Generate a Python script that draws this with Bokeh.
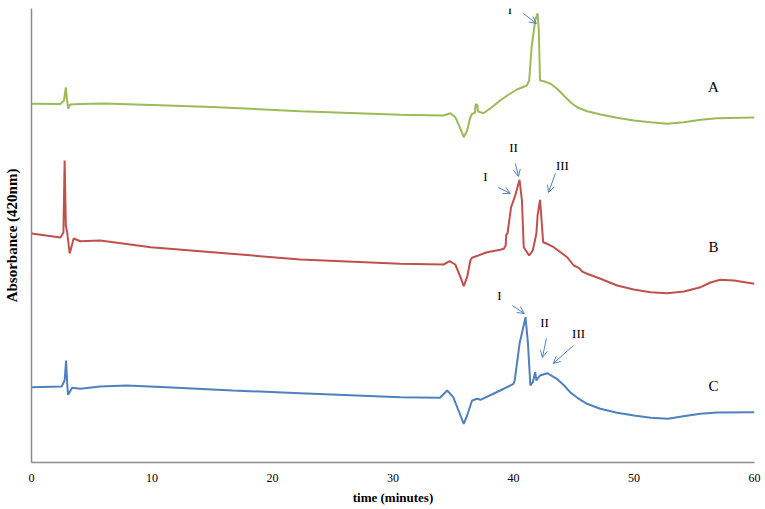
import math
from bokeh.plotting import figure
from bokeh.models import Range1d, FixedTicker, Label, Arrow, OpenHead
from bokeh.embed import file_html
from bokeh.resources import INLINE

# ---- data (signal in arbitrary absorbance units) ----
a_time = [0, 2.4, 2.7, 2.85, 2.95, 3.05, 3.2, 4.0, 6, 10, 15, 22.3, 30.6, 34.2, 34.76, 35.17, 35.6,
          35.87, 36.15, 36.42, 36.56, 36.8, 36.85, 37.0, 37.05, 37.5, 38.2, 38.9, 39.6, 40.3, 41.1,
          41.3, 41.5, 41.8, 42.0, 42.1, 42.2, 42.5, 43.07, 43.62, 44.17, 44.73, 45.28, 46.11, 47.22,
          48.6, 49.98, 51.37, 52.76, 54.14, 55.53, 56.91, 60]
a_signal = [358.7, 358.5, 362, 375, 362, 354, 358, 358.5, 359, 357.5, 355.5, 351.3, 347.7, 347, 349.3,
            345.3, 333.7, 325.3, 332, 345.3, 348.7, 349.5, 358, 358, 351, 349.3, 355.3, 362, 368,
            373, 377, 382, 415, 442, 449.3, 432, 382, 381.3, 378.7, 373.7, 367, 360.3, 355.3, 351.3,
            348, 344.7, 342, 340.3, 338.7, 340.3, 342.7, 344.3, 345]

b_time = [0, 2.4, 2.65, 2.75, 2.85, 2.96, 3.17, 3.5, 4.06, 5.7, 9.9, 14, 22.3, 30.6, 34.2, 34.7, 35.17,
          35.6, 35.87, 36.15, 36.42, 36.56, 37.8, 38.9, 39.2, 39.35, 39.4, 39.5, 39.8, 40.1, 40.5,
          40.7, 40.85, 41.3, 41.6, 41.9, 42.0, 42.2, 42.3, 42.46, 42.79, 43.34, 43.9, 44.45, 45.0,
          45.42, 45.7, 46.11, 47.22, 48.6, 49.98, 51.37, 52.76, 54.14, 55.53, 56.35, 57.16, 58.3, 60]
b_signal = [229, 225, 230, 302, 237, 230, 209, 224, 221.3, 222, 215.3, 211.3, 203, 198.7, 198, 201.3,
            198, 185.3, 176.3, 185.3, 202, 204.7, 210.3, 212.7, 213.7, 217, 227.7, 229, 255.3, 265.3,
            282.7, 262, 215.3, 207, 212, 229, 247, 262.7, 247, 220.3, 218.7, 215.3, 210.3, 205.3, 197,
            194.7, 191, 188.7, 183.7, 177, 173, 170.3, 169.3, 171, 175.3, 180, 182.7, 182, 178.7]

c_time = [0, 2.5, 2.75, 2.87, 2.97, 3.04, 3.37, 4.06, 5.7, 7.9, 11.2, 16.7, 22.3, 30.6, 33.9, 34.5,
          35.0, 35.6, 35.87, 36.15, 36.56, 36.98, 37.26, 38.9, 40.0, 40.1, 40.5, 41.0, 41.2, 41.4,
          41.6, 41.8, 41.9, 42.2, 42.8, 43.6, 44.2, 44.7, 45.3, 46.1, 47.2, 48.6, 50.0, 51.4, 52.8,
          54.1, 55.5, 56.9, 60]
c_signal = [75.3, 76, 82, 102, 77, 67.7, 74.7, 73.7, 76, 77, 75.3, 72, 69.3, 65.3, 64.7, 72, 65.3, 47,
            38.7, 47, 62, 63.7, 62.7, 72, 78.7, 82, 118.7, 145.3, 119, 77, 80.3, 90.3, 82, 87, 89.3,
            83.7, 77, 70.3, 64.7, 58.7, 53.7, 49.7, 47, 44.7, 43.7, 46.3, 48.7, 50, 50.3]

x_ticks = [0, 10, 20, 30, 40, 50, 60]

# trace names and peak annotations
trace_names = ["A", "B", "C"]
name_x = [56.6, 56.6, 56.6]
name_y = [376, 216, 77]

peak_text = ["I", "I", "II", "III", "I", "II", "III"]
peak_tx = [39.7, 37.66, 40.0, 44.06, 38.83, 42.57, 45.4]
peak_ty = [453, 286, 315, 297, 167, 140, 129]
arrow_x0 = [40.82, 38.75, 40.16, 43.48, 39.9, 42.73, 44.98]
arrow_y0 = [449, 275, 299, 289, 157, 124, 117]
arrow_x1 = [41.9, 39.74, 40.41, 42.9, 40.9, 42.4, 43.3]
arrow_y1 = [439, 269, 286, 270, 149, 105, 99]

SERIF = "Liberation Serif"

p = figure(frame_width=723, frame_height=454, x_range=Range1d(0, 60), y_range=Range1d(0, 454),
           output_backend="svg", toolbar_location=None,
           min_border_left=31, min_border_right=10, min_border_top=8, min_border_bottom=0)
p.xgrid.visible = False
p.ygrid.visible = False
p.outline_line_color = None
p.background_fill_color = "white"
p.border_fill_color = "white"

p.line(a_time, a_signal, line_color="#9BBB59", line_width=2)
p.line(b_time, b_signal, line_color="#C0504D", line_width=2)
p.line(c_time, c_signal, line_color="#4F81BD", line_width=2)

xa = p.xaxis[0]
xa.ticker = FixedTicker(ticks=x_ticks)
xa.major_tick_out = 0
xa.major_tick_in = 0
xa.minor_tick_out = 0
xa.minor_tick_in = 0
xa.axis_line_color = "#8C8C8C"
xa.axis_line_width = 1.5
xa.major_label_text_font = SERIF
xa.major_label_text_font_size = "12px"
xa.major_label_text_color = "black"
xa.major_label_standoff = 11
xa.axis_label = "time (minutes)"
xa.axis_label_text_font = SERIF
xa.axis_label_text_font_size = "13px"
xa.axis_label_text_font_style = "bold"
xa.axis_label_text_color = "black"
xa.axis_label_standoff = 5

ya = p.yaxis[0]
ya.ticker = FixedTicker(ticks=[])
ya.major_tick_out = 0
ya.major_tick_in = 0
ya.minor_tick_out = 0
ya.minor_tick_in = 0
ya.major_label_text_font_size = "0px"
ya.major_label_standoff = 0
ya.axis_line_color = "#8C8C8C"
ya.axis_line_width = 1.5
ya.axis_label = "Absorbance (420nm)"
ya.axis_label_text_font = SERIF
ya.axis_label_text_font_size = "15px"
ya.axis_label_text_font_style = "bold"
ya.axis_label_text_color = "black"
ya.axis_label_standoff = 12

for name, nx, ny in zip(trace_names, name_x, name_y):
    p.add_layout(Label(x=nx, y=ny, text=name, text_align="center", text_baseline="middle",
                       text_font=SERIF, text_font_size="15px", text_color="black"))

for t, tx, ty in zip(peak_text, peak_tx, peak_ty):
    p.add_layout(Label(x=tx, y=ty, text=t, text_align="center", text_baseline="middle",
                       text_font=SERIF, text_font_size="13px", text_color="black"))

for x0, y0, x1, y1 in zip(arrow_x0, arrow_y0, arrow_x1, arrow_y1):
    p.add_layout(Arrow(end=OpenHead(size=7, line_color="#4F81BD", line_width=1),
                       x_start=x0, y_start=y0, x_end=x1, y_end=y1,
                       line_color="#4F81BD", line_width=1))

open("out.html", "w").write(file_html(p, INLINE))
